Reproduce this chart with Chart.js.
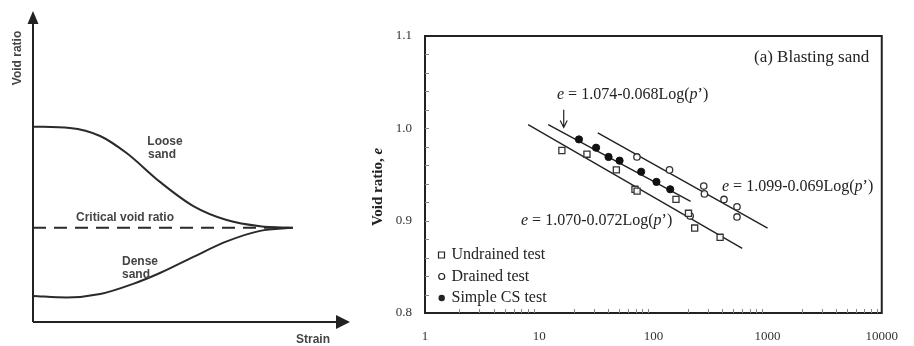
<!DOCTYPE html>
<html>
<head>
<meta charset="utf-8">
<script src="https://cdn.jsdelivr.net/npm/chart.js@4.4.1/dist/chart.umd.min.js"></script>
<style>
  body { margin: 0; background: #fff; }
  #left { position: absolute; left: 0; top: 0; width: 360px; height: 346px; }
  #right { position: absolute; left: 360px; top: 0; width: 554px; height: 346px; }
</style>
</head>
<body>
<div id="left"><canvas id="schematic"></canvas></div>
<div id="right"><canvas id="blasting"></canvas></div>
<script>
// Left schematic: void ratio vs strain (arbitrary units, 0-100)
const looseStrain = [0, 11.7, 21.3, 29.7, 40.3, 50.9, 61.5, 72.1, 82.5];
const looseVoid = [63.0, 62.6, 60.0, 54.5, 45.2, 37.4, 32.9, 30.9, 30.4];
const denseStrain = [0, 10.7, 21.3, 31.8, 40.3, 50.9, 61.5, 72.1, 82.5];
const denseVoid = [8.4, 7.9, 9.0, 12.3, 15.8, 21.0, 26.0, 29.4, 30.4];
const criticalStrain = [0, 81.5];
const criticalVoid = [30.4, 30.4];

// Right chart: (a) Blasting sand
const undrainedP = [15.8, 26.2, 47.4, 69, 72, 157.8, 203, 230, 384];
const undrainedE = [0.976, 0.972, 0.955, 0.934, 0.932, 0.923, 0.908, 0.892, 0.882];
const drainedP = [71.8, 138.5, 276, 280, 210, 415.6, 540, 540];
const drainedE = [0.969, 0.955, 0.9375, 0.929, 0.905, 0.923, 0.915, 0.904];
const simpleP = [22.3, 31.5, 40.5, 50.6, 78.2, 106.4, 140.4];
const simpleE = [0.988, 0.979, 0.969, 0.965, 0.953, 0.942, 0.934];
const fitUndrainedP = [8, 600];
const fitUndrainedE = [1.004, 0.870];
const fitSimpleP = [12, 212];
const fitSimpleE = [1.004, 0.921];
const fitDrainedP = [32.6, 1000];
const fitDrainedE = [0.995, 0.892];
const xTicks = [1, 10, 100, 1000, 10000];
const yTicks = [0.8, 0.9, 1.0, 1.1];

const zip = (xs, ys) => xs.map((x, i) => ({ x: x, y: ys[i] }));
const ink = '#222';
const serif = '"Liberation Serif", "Times New Roman", serif';
const sans = '"Liberation Sans", Arial, sans-serif';

// ---------- left schematic ----------
const schematicPlugin = {
    id: 'schematicDecor',
    afterDraw(chart) {
        const ctx = chart.ctx;
        const a = chart.chartArea;
        ctx.save();
        ctx.strokeStyle = ink;
        ctx.fillStyle = ink;
        ctx.lineWidth = 2;
        // axes
        ctx.beginPath();
        ctx.moveTo(a.left, a.bottom);
        ctx.lineTo(a.left, a.top + 8);
        ctx.moveTo(a.left, a.bottom);
        ctx.lineTo(a.right - 8, a.bottom);
        ctx.stroke();
        // arrow heads
        ctx.beginPath();
        ctx.moveTo(a.left, a.top - 1);
        ctx.lineTo(a.left - 5.5, a.top + 12);
        ctx.lineTo(a.left + 5.5, a.top + 12);
        ctx.closePath();
        ctx.fill();
        ctx.beginPath();
        ctx.moveTo(a.right + 2, a.bottom);
        ctx.lineTo(a.right - 12, a.bottom - 7);
        ctx.lineTo(a.right - 12, a.bottom + 7);
        ctx.closePath();
        ctx.fill();

        ctx.fillStyle = '#444';
        ctx.font = 'bold 12px ' + sans;
        ctx.textAlign = 'center';
        ctx.textBaseline = 'middle';
        ctx.fillText('Loose', 165, 142);
        ctx.fillText('sand', 162, 155);
        ctx.fillText('Critical void ratio', 125, 218);
        ctx.fillText('Dense', 140, 262);
        ctx.fillText('sand', 136, 275);
        ctx.fillText('Strain', 313, 340);
        ctx.translate(18, 58);
        ctx.rotate(-Math.PI / 2);
        ctx.fillText('Void ratio', 0, 0);
        ctx.restore();
    }
};

new Chart(document.getElementById('schematic'), {
    type: 'scatter',
    data: {
        datasets: [
            { data: zip(looseStrain, looseVoid), showLine: true, borderColor: '#2a2a2a', borderWidth: 2, pointRadius: 0, cubicInterpolationMode: 'monotone' },
            { data: zip(denseStrain, denseVoid), showLine: true, borderColor: '#2a2a2a', borderWidth: 2, pointRadius: 0, cubicInterpolationMode: 'monotone' },
            { data: zip(criticalStrain, criticalVoid), showLine: true, borderColor: '#2a2a2a', borderWidth: 2, borderDash: [13, 8], pointRadius: 0 }
        ]
    },
    options: {
        responsive: true,
        maintainAspectRatio: false,
        animation: false,
        layout: { padding: { left: 33, right: 12, top: 12, bottom: 24 } },
        plugins: { legend: { display: false }, tooltip: { enabled: false } },
        scales: {
            x: { type: 'linear', min: 0, max: 100, display: false },
            y: { type: 'linear', min: 0, max: 100, display: false }
        }
    },
    plugins: [schematicPlugin]
});

// ---------- right chart ----------
function drawEquation(ctx, x, y, parts, size) {
    let cx = x;
    parts.forEach(([txt, italic]) => {
        ctx.font = (italic ? 'italic ' : '') + size + 'px ' + serif;
        ctx.fillText(txt, cx, y);
        cx += ctx.measureText(txt).width;
    });
}

const blastingPlugin = {
    id: 'blastingDecor',
    afterDraw(chart) {
        const ctx = chart.ctx;
        const a = chart.chartArea;
        const xs = chart.scales.x;
        const ys = chart.scales.y;
        ctx.save();
        // frame
        ctx.strokeStyle = ink;
        ctx.lineWidth = 2;
        ctx.strokeRect(a.left, a.top, a.right - a.left, a.bottom - a.top);

        // minor ticks
        ctx.strokeStyle = '#888';
        ctx.lineWidth = 1;
        ctx.beginPath();
        for (let d = 1; d < 10000; d *= 10) {
            for (let m = 2; m <= 9; m++) {
                const px = Math.round(xs.getPixelForValue(d * m)) + 0.5;
                ctx.moveTo(px, a.bottom);
                ctx.lineTo(px, a.bottom - 4);
            }
        }
        for (let k = 1; k < 15; k++) {
            const py = Math.round(ys.getPixelForValue(0.8 + k * 0.02)) + 0.5;
            ctx.moveTo(a.left, py);
            ctx.lineTo(a.left + 4, py);
        }
        ctx.stroke();

        // arrow to the simple CS line
        const ax = xs.getPixelForValue(16.4);
        const ay0 = ys.getPixelForValue(1.020);
        const ay1 = ys.getPixelForValue(1.001);
        ctx.strokeStyle = ink;
        ctx.lineWidth = 1.2;
        ctx.beginPath();
        ctx.moveTo(ax, ay0);
        ctx.lineTo(ax, ay1);
        ctx.moveTo(ax - 3.5, ay1 - 7);
        ctx.lineTo(ax, ay1);
        ctx.lineTo(ax + 3.5, ay1 - 7);
        ctx.stroke();

        // texts
        ctx.fillStyle = ink;
        ctx.textBaseline = 'middle';
        ctx.textAlign = 'left';
        ctx.font = '17px ' + serif;
        ctx.fillText('(a) Blasting sand', 394, 58);
        drawEquation(ctx, 197, 95, [['e', true], [' = 1.074-0.068Log(', false], ['p', true], ['\u2019)', false]], 16);
        drawEquation(ctx, 362, 187, [['e', true], [' = 1.099-0.069Log(', false], ['p', true], ['\u2019)', false]], 16);
        drawEquation(ctx, 161, 221, [['e', true], [' = 1.070-0.072Log(', false], ['p', true], ['\u2019)', false]], 16);

        // legend
        const items = [['rect', false, 'Undrained test'], ['circle', false, 'Drained test'], ['circle', true, 'Simple CS test']];
        items.forEach(([shape, filled, label], i) => {
            const ly = 255 + i * 21.5;
            ctx.lineWidth = 1.2;
            ctx.beginPath();
            if (shape === 'rect') ctx.rect(78.5, ly - 3, 6, 6);
            else ctx.arc(81.7, ly, filled ? 3.2 : 3, 0, Math.PI * 2);
            if (filled) ctx.fill(); else ctx.stroke();
            ctx.font = '16px ' + serif;
            ctx.fillText(label, 91.5, ly);
        });

        // y axis title
        ctx.translate(18, 187);
        ctx.rotate(-Math.PI / 2);
        ctx.textAlign = 'left';
        const t1 = 'Void ratio, ';
        ctx.font = 'bold 15px ' + serif;
        const w1 = ctx.measureText(t1).width;
        ctx.font = 'bold italic 15px ' + serif;
        const w2 = ctx.measureText('e').width;
        const start = -(w1 + w2) / 2;
        ctx.font = 'bold 15px ' + serif;
        ctx.fillText(t1, start, 0);
        ctx.font = 'bold italic 15px ' + serif;
        ctx.fillText('e', start + w1, 0);
        ctx.restore();
    }
};

new Chart(document.getElementById('blasting'), {
    type: 'scatter',
    data: {
        datasets: [
            { label: 'Undrained test', data: zip(undrainedP, undrainedE), pointStyle: 'rect', pointRadius: 4.3, borderColor: '#333', backgroundColor: 'rgba(255,255,255,0.9)', borderWidth: 1.3 },
            { label: 'Drained test', data: zip(drainedP, drainedE), pointStyle: 'circle', pointRadius: 3.2, borderColor: '#333', backgroundColor: 'rgba(255,255,255,0.9)', borderWidth: 1.3 },
            { label: 'Simple CS test', data: zip(simpleP, simpleE), pointStyle: 'circle', pointRadius: 3.6, borderColor: '#111', backgroundColor: '#111', borderWidth: 1 },
            { data: zip(fitUndrainedP, fitUndrainedE), showLine: true, pointRadius: 0, borderColor: ink, borderWidth: 1.4 },
            { data: zip(fitSimpleP, fitSimpleE), showLine: true, pointRadius: 0, borderColor: ink, borderWidth: 1.4 },
            { data: zip(fitDrainedP, fitDrainedE), showLine: true, pointRadius: 0, borderColor: ink, borderWidth: 1.4 }
        ]
    },
    options: {
        responsive: true,
        maintainAspectRatio: false,
        animation: false,
        layout: { padding: { left: 0, right: 22, top: 36, bottom: 0 } },
        plugins: { legend: { display: false }, tooltip: { enabled: false } },
        scales: {
            x: {
                type: 'logarithmic',
                min: 1,
                max: 10000,
                afterFit: s => { s.height = 33; },
                afterBuildTicks: s => { s.ticks = xTicks.map(v => ({ value: v })); },
                grid: { display: true, drawOnChartArea: false, drawTicks: false },
                border: { display: true, color: ink, width: 2 },
                ticks: {
                    autoSkip: false,
                    maxRotation: 0,
                    padding: 16,
                    color: '#333',
                    font: { family: serif, size: 13 },
                    callback: v => String(v)
                }
            },
            y: {
                type: 'linear',
                min: 0.8,
                max: 1.1,
                afterFit: s => { s.width = 65; },
                afterBuildTicks: s => { s.ticks = yTicks.map(v => ({ value: v })); },
                grid: { display: true, drawOnChartArea: false, drawTicks: false },
                border: { display: true, color: ink, width: 2 },
                ticks: {
                    padding: 13,
                    color: '#333',
                    font: { family: serif, size: 13 },
                    callback: v => Number(v).toFixed(1)
                }
            }
        }
    },
    plugins: [blastingPlugin]
});
</script>
</body>
</html>
